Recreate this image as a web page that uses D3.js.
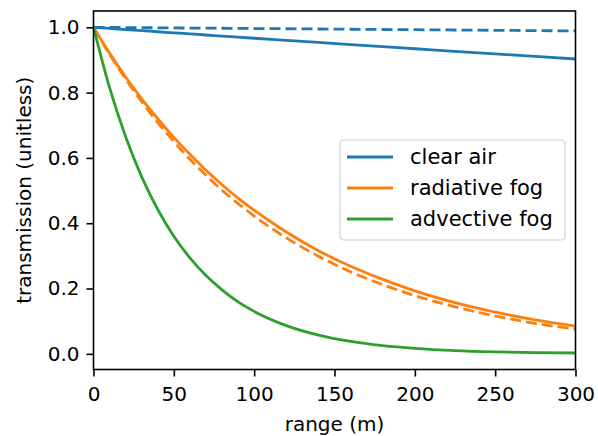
<!DOCTYPE html>
<html><head><meta charset="utf-8">
<script src="https://cdn.jsdelivr.net/npm/d3@7"></script>
<style>body{margin:0;background:#fff}svg{display:block}text{font-family:"DejaVu Sans",sans-serif;fill:#000}</style>
</head><body><svg id="c" width="598" height="436"></svg>
<script>
const rangeM = [0,10,20,30,40,50,60,70,80,90,100,120,140,160,180,200,225,250,275,300];
const clearAir      = [1.000,0.9966,0.9932,0.9898,0.9865,0.9831,0.9798,0.9765,0.9732,0.9699,0.9666,0.9601,0.9536,0.9471,0.9407,0.9344,0.9265,0.9187,0.9108,0.9030];
const clearAirDash  = [1.000,0.9996,0.9993,0.9989,0.9985,0.9982,0.9978,0.9974,0.9971,0.9967,0.9963,0.9956,0.9949,0.9941,0.9934,0.9927,0.9918,0.9909,0.9899,0.9890];
const radFog        = [1.000,0.921,0.848,0.781,0.720,0.663,0.611,0.562,0.518,0.477,0.440,0.373,0.316,0.268,0.228,0.193,0.157,0.128,0.104,0.085];
const radFogDash    = [1.000,0.917,0.842,0.772,0.708,0.650,0.596,0.547,0.501,0.460,0.422,0.355,0.299,0.251,0.212,0.178,0.144,0.116,0.093,0.076];
const advFog        = [1.000,0.815,0.665,0.542,0.442,0.360,0.294,0.240,0.196,0.159,0.130,0.0865,0.0575,0.0382,0.0254,0.0169,0.0101,0.0061,0.0036,0.0025];
const xTicks = [0,50,100,150,200,250,300];
const yTicks = [0.0,0.2,0.4,0.6,0.8,1.0];
const legendLabels = ["clear air","radiative fog","advective fog"];
const colors = ["#1f77b4","#ff7f0e","#2ca02c"];

const FS = "20px";
const svg = d3.select("#c");
const L=93.5, R=575.5, T=11, B=369.5;
const x = d3.scaleLinear().domain([0,300]).range([L,R]);
const y = d3.scaleLinear().domain([-0.048,1.05]).range([B,T]);

const series = [
  {v:clearAirDash,c:0,dash:true},
  {v:clearAir,c:0,dash:false},
  {v:radFogDash,c:1,dash:true},
  {v:radFog,c:1,dash:false},
  {v:advFog,c:2,dash:false}
];
const line = d3.line().x((d,i)=>x(rangeM[i])).y(d=>y(d)).curve(d3.curveMonotoneX);
const g = svg.append("g");
g.append("clipPath").attr("id","clip").append("rect").attr("x",L).attr("y",T).attr("width",R-L).attr("height",B-T);
series.forEach(s=>{
  g.append("path").attr("d",line(s.v)).attr("fill","none").attr("stroke",colors[s.c])
   .attr("stroke-width",2.8).attr("clip-path","url(#clip)")
   .attr("stroke-dasharray",s.dash?"11,5":null);
});

// axes
const xa = svg.append("g").attr("transform",`translate(0,${B})`)
  .call(d3.axisBottom(x).tickValues(xTicks).tickFormat(d3.format("d")).tickSize(7).tickPadding(7).tickSizeOuter(0));
const ya = svg.append("g").attr("transform",`translate(${L},0)`)
  .call(d3.axisLeft(y).tickValues(yTicks).tickFormat(d3.format(".1f")).tickSize(7).tickPadding(7).tickSizeOuter(0));
[xa,ya].forEach(a=>{
  a.attr("font-size",null).attr("font-family",null);
  a.select(".domain").remove();
  a.selectAll("line").attr("stroke","#000").attr("stroke-width",1.6);
  a.selectAll("text").style("font-size",FS).style("font-family","DejaVu Sans").attr("fill","#000");
});
xa.selectAll("text").attr("dy",null).attr("y",null).attr("transform","translate(0,31)");
svg.append("rect").attr("x",L).attr("y",T).attr("width",R-L).attr("height",B-T)
  .attr("fill","none").attr("stroke","#000").attr("stroke-width",1.6);

svg.append("text").attr("x",(L+R)/2).attr("y",431).attr("text-anchor","middle").style("font-size",FS).text("range (m)");
svg.append("text").attr("transform",`translate(31,${(T+B)/2}) rotate(-90)`).attr("text-anchor","middle").style("font-size",FS).text("transmission (unitless)");

// legend
const lg = svg.append("g");
lg.append("rect").attr("x",340).attr("y",140).attr("width",225).attr("height",100).attr("rx",4)
  .attr("fill","#fff").attr("fill-opacity",0.8).attr("stroke","#d0d0d0").attr("stroke-width",1.2);
legendLabels.forEach((lab,i)=>{
  const yy = 157 + i*31;
  lg.append("line").attr("x1",347).attr("x2",393).attr("y1",yy).attr("y2",yy).attr("stroke",colors[i]).attr("stroke-width",2.8);
  lg.append("text").attr("x",410).attr("y",yy+7).style("font-size","21px").text(lab);
});
</script></body></html>
